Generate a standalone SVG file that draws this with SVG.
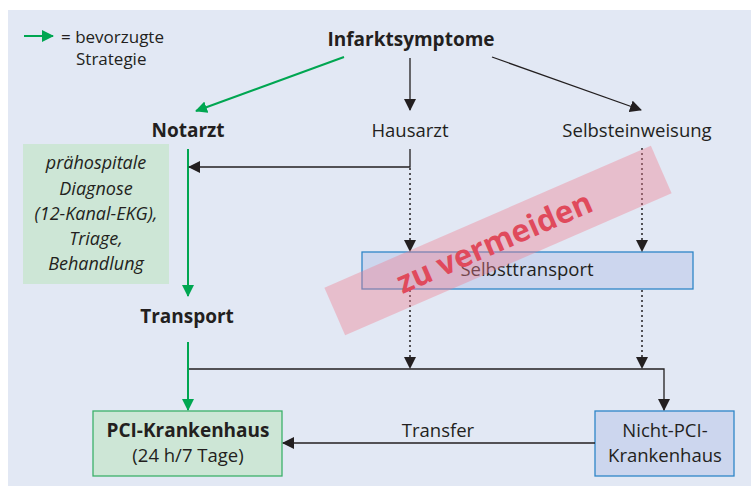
<svg xmlns="http://www.w3.org/2000/svg" width="753" height="486" viewBox="0 0 753 486">
<defs>
<marker id="ab" markerWidth="12" markerHeight="12" refX="11" refY="6" orient="auto" markerUnits="userSpaceOnUse"><path d="M0,0 L12,6 L0,12 z" fill="#231f20"/></marker>
<marker id="ag" markerWidth="12" markerHeight="12" refX="11" refY="6" orient="auto" markerUnits="userSpaceOnUse"><path d="M0,0 L12,6 L0,12 z" fill="#00a651"/></marker>
<style>
text{font-family:"Open Sans","Noto Sans","Liberation Sans",sans-serif;fill:#231f20;font-size:18.5px}
.b{font-weight:bold;font-size:19px}
.c{text-anchor:middle}
.i{font-style:italic;font-size:18px}
.l{font-size:17px}
.v{font-size:31px;font-weight:bold;fill:#e04a5c}
.k{stroke:#231f20;stroke-width:1.3;fill:none}
.g{stroke:#00a651;stroke-width:2;fill:none}
.d{stroke:#231f20;stroke-width:1.5;fill:none;stroke-dasharray:2 3}
</style>
</defs>
<rect x="8" y="10" width="743" height="476" fill="#e2e8f4"/>
<g id="legend">
<line x1="24" y1="36" x2="53" y2="36" class="g" marker-end="url(#ag)"/>
<text x="61" y="43" class="l">= bevorzugte</text>
<text x="76" y="65" class="l">Strategie</text>
</g>
<g id="infarktsymptome"><text x="411" y="46" class="b c">Infarktsymptome</text></g>
<g id="notarzt"><text x="188" y="137" class="b c">Notarzt</text></g>
<g id="hausarzt"><text x="410" y="137" class="c">Hausarzt</text></g>
<g id="selbsteinweisung"><text x="637" y="137" class="c">Selbsteinweisung</text></g>
<g id="praehospital">
<rect x="23" y="144" width="146" height="140" fill="#cde6d6"/>
<text class="i c" x="96"><tspan x="96" y="169">prähospitale</tspan><tspan x="96" y="195">Diagnose</tspan><tspan x="96" y="220">(12-Kanal-EKG),</tspan><tspan x="96" y="245">Triage,</tspan><tspan x="96" y="270">Behandlung</tspan></text>
</g>
<g id="transport"><text x="187" y="323" class="b c">Transport</text></g>
<g id="selbsttransport">
<rect x="362" y="252" width="331" height="37" fill="#ccd6ee" stroke="#2e86c8" stroke-width="1.3"/>
<text x="527" y="276" class="c">Selbsttransport</text>
</g>
<g id="pci">
<rect x="93" y="411" width="189" height="65" fill="#cde6d6" stroke="#3cb16b" stroke-width="1.3"/>
<text x="188" y="437" class="b c">PCI-Krankenhaus</text>
<text x="188" y="462" class="c">(24 h/7 Tage)</text>
</g>
<g id="nichtpci">
<rect x="595" y="411" width="139" height="65" fill="#ccd6ee" stroke="#2e86c8" stroke-width="1.3"/>
<text x="665" y="437" class="c">Nicht-PCI-</text>
<text x="665" y="462" class="c">Krankenhaus</text>
</g>
<g id="connectors">
<line x1="344" y1="57" x2="196" y2="111" class="g" marker-end="url(#ag)"/>
<line x1="410" y1="58" x2="410" y2="110" class="k" marker-end="url(#ab)"/>
<line x1="492" y1="57" x2="641" y2="110" class="k" marker-end="url(#ab)"/>
<line x1="188" y1="149" x2="188" y2="296" class="g" marker-end="url(#ag)"/>
<polyline points="410,149 410,167 189,167" class="k" marker-end="url(#ab)"/>
<line x1="410" y1="168" x2="410" y2="251" class="d" marker-end="url(#ab)"/>
<line x1="642" y1="148" x2="642" y2="251" class="d" marker-end="url(#ab)"/>
<line x1="410" y1="290" x2="410" y2="368" class="d" marker-end="url(#ab)"/>
<line x1="642" y1="290" x2="642" y2="368" class="d" marker-end="url(#ab)"/>
<polyline points="188,369 664,369 664,410" class="k" marker-end="url(#ab)"/>
<line x1="188" y1="342" x2="188" y2="410" class="g" marker-end="url(#ag)"/>
<line x1="595" y1="443" x2="283" y2="443" class="k" marker-end="url(#ab)"/>
<text x="438" y="437" class="c">Transfer</text>
</g>
<g id="vermeiden" transform="translate(498,240.5) rotate(-23.5)">
<rect x="-178" y="-26" width="356" height="52" fill="#f08090" fill-opacity="0.4"/>
<text x="-4" y="11" class="v c">zu vermeiden</text>
</g>
</svg>
